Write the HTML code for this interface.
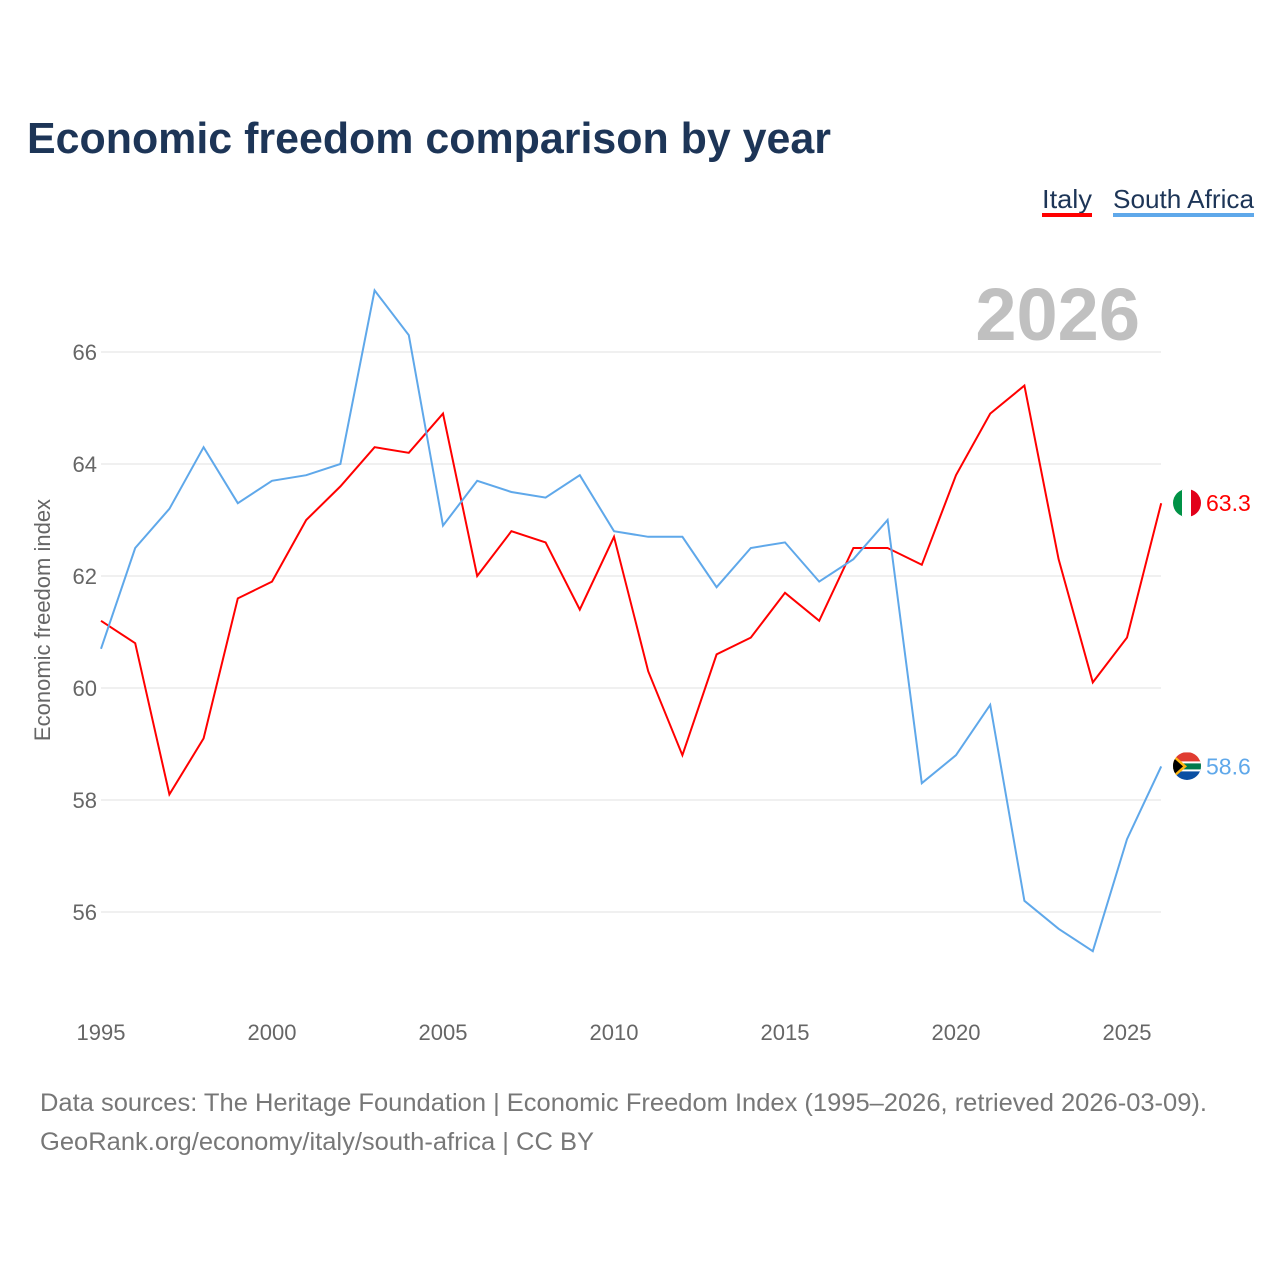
<!DOCTYPE html>
<html><head><meta charset="utf-8"><style>
body{margin:0;background:#fff;width:1280px;height:1280px;overflow:hidden;font-family:"Liberation Sans",sans-serif}
</style></head><body>
<svg width="1280" height="1280" xmlns="http://www.w3.org/2000/svg" id="chart">
<defs><clipPath id="fc1"><circle cx="1187" cy="503" r="14"/></clipPath><clipPath id="fc2"><circle cx="1187" cy="766" r="14"/></clipPath></defs>
<text x="27" y="153" font-size="44" font-weight="bold" fill="#1d3557" textLength="804" lengthAdjust="spacingAndGlyphs">Economic freedom comparison by year</text>
<g>
<text x="1042" y="208" font-size="26" fill="#1d3557" textLength="50" lengthAdjust="spacingAndGlyphs">Italy</text>
<rect x="1042" y="213" width="50" height="4" fill="#ff0000"/>
<text x="1113" y="208" font-size="26" fill="#1d3557" textLength="141" lengthAdjust="spacingAndGlyphs">South Africa</text>
<rect x="1113" y="213" width="141" height="4" fill="#5fa8ea"/>
</g>
<text x="1140" y="340" font-size="74" font-weight="bold" fill="#c0c0c0" text-anchor="end">2026</text>
<g id="grid"></g>
<g id="xaxis"></g>
<text transform="translate(50,620) rotate(-90)" font-size="22" fill="#666" text-anchor="middle">Economic freedom index</text>
<g id="series"></g>
<text x="40" y="1111" font-size="25" fill="#777" textLength="1167" lengthAdjust="spacingAndGlyphs">Data sources: The Heritage Foundation | Economic Freedom Index (1995–2026, retrieved 2026-03-09).</text>
<text x="40" y="1150" font-size="25" fill="#777" textLength="554" lengthAdjust="spacingAndGlyphs">GeoRank.org/economy/italy/south-africa | CC BY</text>
</svg>
<script>
const years=[1995,1996,1997,1998,1999,2000,2001,2002,2003,2004,2005,2006,2007,2008,2009,2010,2011,2012,2013,2014,2015,2016,2017,2018,2019,2020,2021,2022,2023,2024,2025,2026];
const italy=[61.2,60.8,58.1,59.1,61.6,61.9,63.0,63.6,64.3,64.2,64.9,62.0,62.8,62.6,61.4,62.7,60.3,58.8,60.6,60.9,61.7,61.2,62.5,62.5,62.2,63.8,64.9,65.4,62.3,60.1,60.9,63.3];
const southAfrica=[60.7,62.5,63.2,64.3,63.3,63.7,63.8,64.0,67.1,66.3,62.9,63.7,63.5,63.4,63.8,62.8,62.7,62.7,61.8,62.5,62.6,61.9,62.3,63.0,58.3,58.8,59.7,56.2,55.7,55.3,57.3,58.6];
const yTicks=[56,58,60,62,64,66];
const xTicks=[1995,2000,2005,2010,2015,2020,2025];
const NS="http://www.w3.org/2000/svg";
const X=y=>101+(y-1995)*(1127-101)/30;
const Y=v=>352+(66-v)*56;
function mk(t,a,p){const e=document.createElementNS(NS,t);for(const k in a)e.setAttribute(k,a[k]);p.appendChild(e);return e;}
const grid=document.getElementById('grid');
yTicks.forEach(v=>{
 const l=mk('line',{x1:101,x2:1161,y1:Y(v),y2:Y(v),stroke:'#ebebeb','stroke-width':1.5},grid);
 
 
 const t=mk('text',{x:97,y:Y(v)+8,'font-size':22,fill:'#666','text-anchor':'end'},grid);
 t.textContent=v;
 
 
});
const xa=document.getElementById('xaxis');
xTicks.forEach(v=>{
 const t=mk('text',{x:X(v),y:1040,'font-size':22,fill:'#666','text-anchor':'middle'},xa);
 t.textContent=v;
 
 
});
const sg=document.getElementById('series');
function line(vals,col,name,clip){
 const p=mk('polyline',{points:vals.map((v,i)=>X(years[i])+','+Y(v)).join(' '),fill:'none',stroke:col,'stroke-width':2},sg);
 
 
 const last=vals[vals.length-1],cy=Y(last);
 const g=mk('g',{'clip-path':'url(#'+clip+')'},sg);
 
 
 if(name==='italy'){
  mk('rect',{x:1173,y:cy-14,width:10,height:28,fill:'#009246'},g);
  mk('rect',{x:1182,y:cy-14,width:10,height:28,fill:'#fff'},g);
  mk('rect',{x:1191,y:cy-14,width:10,height:28,fill:'#e2001a'},g);
 } else {
  mk('rect',{x:1173,y:cy-14,width:28,height:14,fill:'#e03c31'},g);
  mk('rect',{x:1173,y:cy,width:28,height:14,fill:'#0a4fa3'},g);
  mk('rect',{x:1173,y:cy-5,width:28,height:10,fill:'#fff'},g);
  mk('rect',{x:1173,y:cy-3,width:28,height:6,fill:'#007a4d'},g);
  mk('polygon',{points:(1173)+','+(cy-12)+' '+(1187)+','+cy+' '+(1173)+','+(cy+12),fill:'#ffb612'},g);
  mk('polygon',{points:(1173)+','+(cy-9)+' '+(1183)+','+cy+' '+(1173)+','+(cy+9),fill:'#000'},g);
 }
 const t=mk('text',{x:1206,y:cy+8,'font-size':23,fill:col},sg);
 t.textContent=last.toFixed(1);
 
 
}
line(italy,'#ff0000','italy','fc1');
line(southAfrica,'#5fa8ea','south-africa','fc2');
</script>
</body></html>
